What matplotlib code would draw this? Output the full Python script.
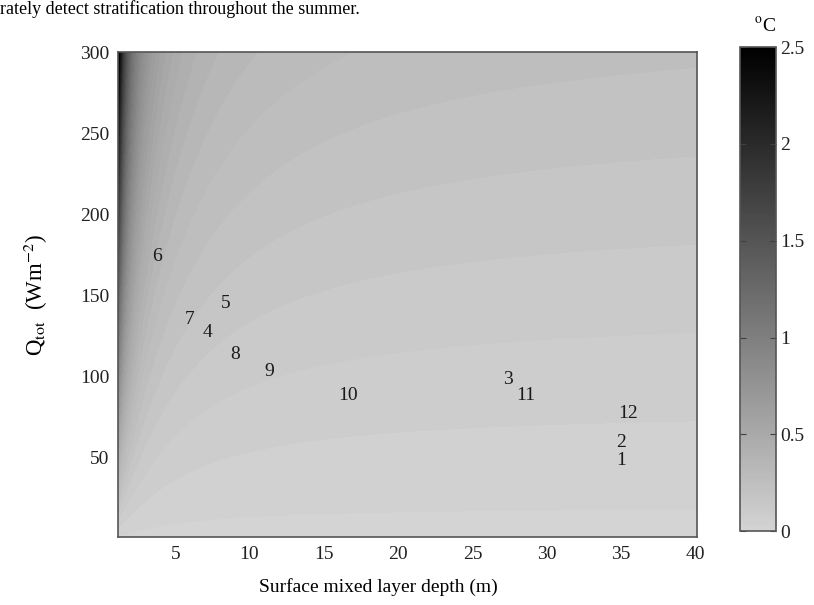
import numpy as np
import matplotlib
matplotlib.use('Agg')
import matplotlib.pyplot as plt
from matplotlib.colors import LinearSegmentedColormap, Normalize
from matplotlib.cm import ScalarMappable

plt.rcParams['font.family'] = ['Liberation Serif', 'DejaVu Serif']
plt.rcParams['mathtext.fontset'] = 'stix'

# month labels and their positions (mixed layer depth, Q_tot)
months = ['1', '2', '3', '4', '5', '6', '7', '8', '9', '10', '11', '12']
depth = [35.0, 35.0, 27.4, 7.2, 8.4, 3.8, 6.0, 9.0, 11.3, 16.6, 28.6, 35.5]
qtot = [47.6, 58.7, 98.0, 127.0, 145.0, 174.0, 134.6, 113.6, 102.5, 88.0, 87.7, 77.0]

# background field coefficients (temperature difference, deg C)
c_h2 = 0.0077
c_h1 = 0.0029
c_h0 = 0.00073
level_step = 0.044
level_offset = 0.0144

xticks = [5, 10, 15, 20, 25, 30, 35, 40]
yticks = [50, 100, 150, 200, 250, 300]
cticks = [0, 0.5, 1, 1.5, 2, 2.5]

top_text = 'rately detect stratification throughout the summer.'

fig = plt.figure(figsize=(8.14, 6.05), dpi=100)
ax = fig.add_axes([0.145, 0.112, 0.711, 0.802])
cax = fig.add_axes([0.909, 0.122, 0.044, 0.800])

cmap = LinearSegmentedColormap.from_list('grey_r', [(0.83, 0.83, 0.83), (0, 0, 0)])
norm = Normalize(vmin=0, vmax=2.5)

h = np.linspace(1.0, 40.5, 500)
q = np.linspace(0.0, 302, 500)
H, Q = np.meshgrid(h, q)
dT = Q * (c_h2 / H**2 + c_h1 / H + c_h0)
levels = np.arange(level_offset - level_step, dT.max() + level_step, level_step)
ax.contourf(H, Q, dT, levels=levels, cmap=cmap, norm=norm, extend='max')

for lab, x, y in zip(months, depth, qtot):
    ax.text(x, y, lab, ha='center', va='center', fontsize=14, color='#1a1a1a')

ax.set_xlim(1.15, 40.1)
ax.set_ylim(0.5, 300)
ax.set_xticks(xticks)
ax.set_yticks(yticks)
ax.tick_params(length=0, labelsize=14, pad=6, labelcolor='#222222')
for s in ax.spines.values():
    s.set_color('#555555')
    s.set_linewidth(1.2)
ax.set_xlabel('Surface mixed layer depth (m)', fontsize=14)
ax.xaxis.set_label_coords(0.449, -0.085)
ax.set_ylabel(r'Q$_{\mathrm{tot}}$  (Wm$^{-2}$)', fontsize=16.5)
ax.yaxis.set_label_coords(-0.117, 0.5)

cb = fig.colorbar(ScalarMappable(norm=norm, cmap=cmap), cax=cax, ticks=cticks)
cb.ax.set_yticklabels(['0', '0.5', '1', '1.5', '2', '2.5'])
cb.ax.tick_params(direction='in', length=4, labelsize=14, color='#404040', pad=3,
                  labelcolor='#222222', left=True)
cb.outline.set_edgecolor('#555555')
cb.outline.set_linewidth(1.2)
fig.text(0.940, 0.958, r'$^{\mathrm{o}}$C', ha='center', va='center', fontsize=14)

fig.text(0.0, 0.999, top_text, ha='left', va='top', fontsize=13)

fig.savefig('out.png', dpi=100)
